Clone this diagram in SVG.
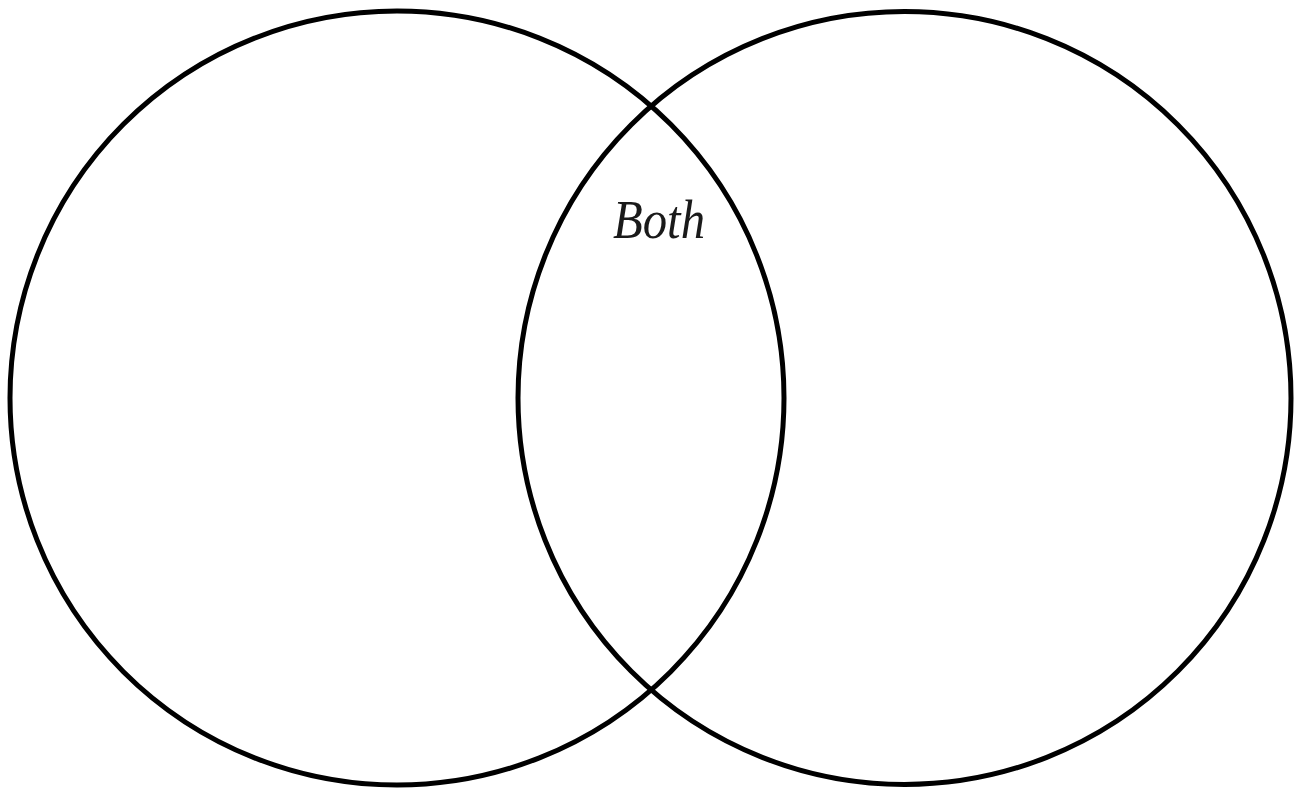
<svg xmlns="http://www.w3.org/2000/svg" width="1299" height="791" viewBox="0 0 1299 791">
<style>
.ring{fill:none;stroke:#000;stroke-width:5}
.lbl{font-family:"Liberation Serif",serif;font-style:italic;font-size:54px;fill:#1a1a1a}
</style>
<rect width="1299" height="791" fill="#fff"/>
<g id="left-set"><circle class="ring" cx="397" cy="398" r="387"/></g>
<g id="right-set"><circle class="ring" cx="904.5" cy="398" r="386.5"/></g>
<g id="both-label"><text class="lbl" x="613" y="238" textLength="92" lengthAdjust="spacingAndGlyphs">Both</text></g>
<g id="connectors"></g>
</svg>
